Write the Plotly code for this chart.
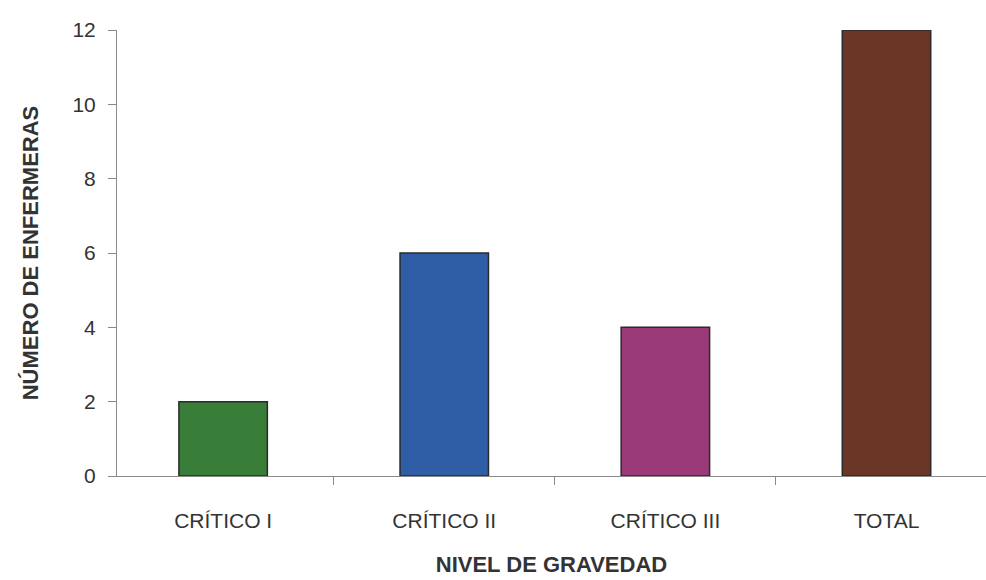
import plotly.graph_objects as go

# Nurses by severity level
categories = ["CRÍTICO I", "CRÍTICO II", "CRÍTICO III", "TOTAL"]
nurses = [2, 6, 4, 12]
bar_colors = ["#387d38", "#2f5ea6", "#9a3a78", "#6a3626"]
y_ticks = [0, 2, 4, 6, 8, 10, 12]

fig = go.Figure(
    go.Bar(
        x=categories,
        y=nurses,
        width=0.40,
        marker=dict(color=bar_colors, line=dict(color="#2a2a2a", width=1.5)),
    )
)

fig.update_layout(
    width=986,
    height=580,
    margin=dict(l=117, r=0, t=30, b=104),
    paper_bgcolor="white",
    plot_bgcolor="white",
    showlegend=False,
    font=dict(family="Liberation Sans, Arial, sans-serif", color="#333333"),
)

fig.update_xaxes(
    range=[-0.48, 3.45],
    showline=True,
    linecolor="#8a8a8a",
    linewidth=1,
    ticks="outside",
    tickson="boundaries",
    ticklen=8,
    tickcolor="#8a8a8a",
    ticklabelstandoff=26,
    tickfont=dict(size=21, color="#333333"),
    showgrid=False,
    title=dict(
        text="<b>NIVEL DE GRAVEDAD</b>",
        font=dict(size=22, color="#333333"),
        standoff=25,
    ),
)

fig.update_yaxes(
    range=[0, 12],
    tickvals=y_ticks,
    showline=True,
    linecolor="#8a8a8a",
    linewidth=1,
    ticks="outside",
    ticklen=8,
    tickcolor="#8a8a8a",
    ticklabelstandoff=8,
    tickfont=dict(size=21, color="#333333"),
    showgrid=False,
    zeroline=False,
    title=dict(
        text="<b>NÚMERO DE ENFERMERAS</b>",
        font=dict(size=22, color="#333333"),
        standoff=27,
    ),
)

fig.write_html("out.html")
